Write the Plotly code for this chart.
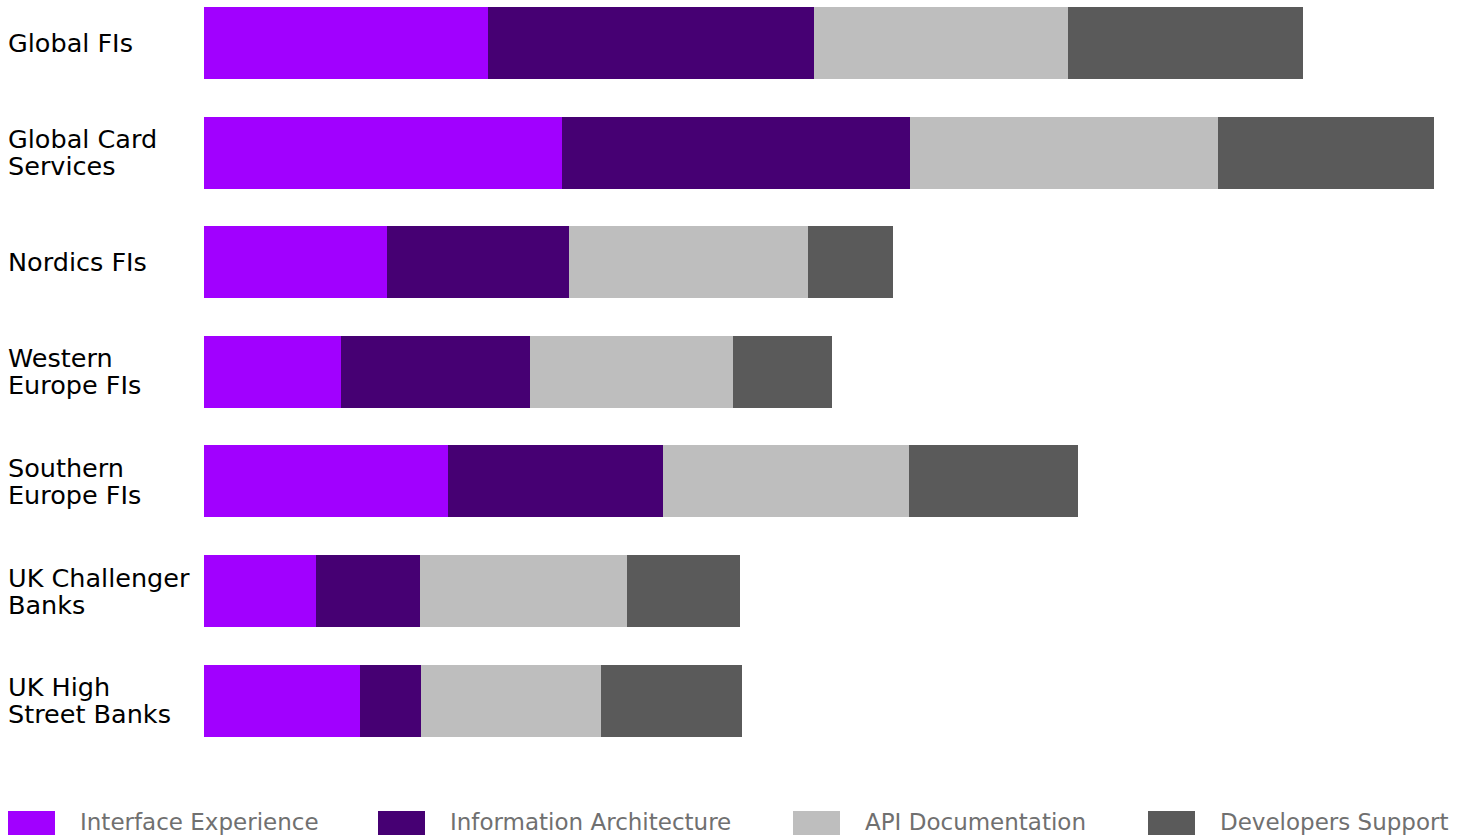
import plotly.graph_objects as go

categories = ["Global FIs", "Global Card<br>Services", "Nordics FIs", "Western<br>Europe FIs",
              "Southern<br>Europe FIs", "UK Challenger<br>Banks", "UK High<br>Street Banks"]
series_names = ["Interface Experience", "Information Architecture", "API Documentation", "Developers Support"]
colors = ["#A100FF", "#460073", "#BEBEBE", "#5A5A5A"]

interface_experience = [2.84, 3.58, 1.83, 1.37, 2.44, 1.12, 1.56]
information_architecture = [3.26, 3.48, 1.82, 1.89, 2.15, 1.04, 0.61]
api_documentation = [2.54, 3.08, 2.39, 2.03, 2.46, 2.07, 1.80]
developers_support = [2.35, 2.16, 0.85, 0.99, 1.69, 1.13, 1.41]

series_values = [interface_experience, information_architecture, api_documentation, developers_support]

W, H = 1468, 838
ML, MT, MB = 204, 0, 78
PW, PH = W - ML, H - MT - MB
center0, step = 43.2, 109.57

ypos = list(range(len(categories)))
fig = go.Figure()
for name, vals, col in zip(series_names, series_values, colors):
    fig.add_trace(go.Bar(y=ypos, x=vals, name=name, orientation="h",
                         marker=dict(color=col, line=dict(width=0)),
                         width=72 / step, showlegend=False))

annotations = []
for i, lab in enumerate(categories):
    lines = lab.split("<br>")
    n = len(lines)
    for j, ln in enumerate(lines):
        off = (j - (n - 1) / 2) * 27 / step
        annotations.append(dict(text=ln, xref="paper", yref="y", x=(6 - ML) / PW, y=i + off,
                                xanchor="left", yanchor="middle", showarrow=False,
                                font=dict(size=25.5, color="#000000", family="DejaVu Sans")))

legend_x = [8, 378, 793, 1148]
shapes = []
for name, col, lx in zip(series_names, colors, legend_x):
    shapes.append(dict(type="rect", xref="paper", yref="paper",
                       x0=(lx - ML) / PW, x1=(lx + 47 - ML) / PW,
                       y0=(PH - 811) / PH, y1=(PH - 835) / PH,
                       fillcolor=col, line=dict(width=0)))
    annotations.append(dict(text=name, xref="paper", yref="paper", x=(lx + 70 - ML) / PW,
                            y=(PH - 822) / PH, xanchor="left", yanchor="middle", showarrow=False,
                            font=dict(size=23, color="#707070", family="DejaVu Sans")))

fig.update_layout(
    barmode="stack", width=W, height=H,
    margin=dict(l=ML, r=0, t=MT, b=MB, pad=0),
    plot_bgcolor="white", paper_bgcolor="white",
    xaxis=dict(range=[0, PW / 100], visible=False, fixedrange=True),
    yaxis=dict(range=[(PH - center0) / step, -center0 / step], visible=False),
    annotations=annotations, shapes=shapes, showlegend=False,
)
fig.write_html("out.html")
